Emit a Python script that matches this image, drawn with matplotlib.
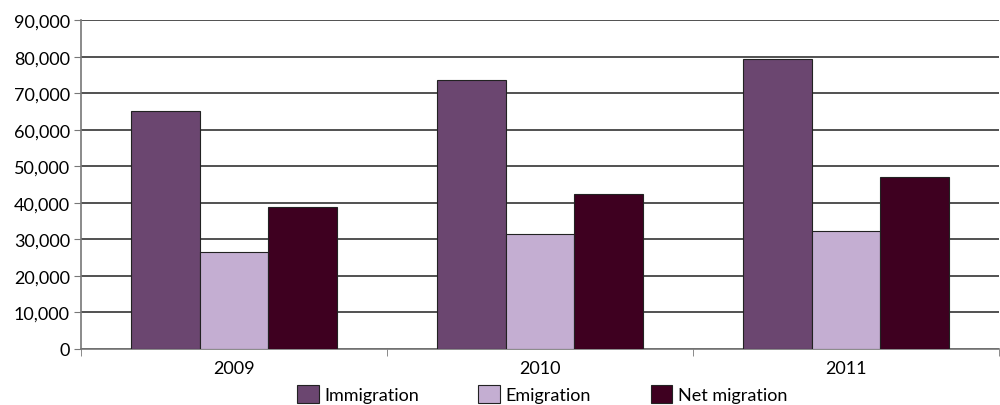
import matplotlib.pyplot as plt
import numpy as np
from matplotlib.ticker import FuncFormatter, FixedLocator

years = ['2009', '2010', '2011']
immigration = [65100, 73600, 79300]
emigration = [26500, 31500, 32400]
net_migration = [38800, 42400, 47000]

series = [('Immigration', immigration, '#6b4670'),
          ('Emigration', emigration, '#c4aed2'),
          ('Net migration', net_migration, '#3e0020')]

plt.rcParams['font.family'] = ['Lato', 'DejaVu Sans']

fig = plt.figure(figsize=(10, 4.06), dpi=100)
ax = fig.add_axes([0.081, 0.138, 0.918, 0.810])

x = np.arange(len(years))
w = 0.224
for i, (name, vals, col) in enumerate(series):
    ax.bar(x + (i - 1) * w, vals, w, color=col, edgecolor='#222222',
           linewidth=0.8, label=name, zorder=3)

ax.set_xlim(-0.5, 2.5)
ax.set_ylim(0, 90000)
ax.set_yticks(np.arange(0, 90001, 10000))
ax.yaxis.set_major_formatter(FuncFormatter(lambda v, p: f'{int(v):,}'))
ax.grid(axis='y', color='#333333', linewidth=1.2, zorder=0)

ax.set_xticks(x)
ax.set_xticklabels(years)
ax.xaxis.set_minor_locator(FixedLocator([-0.5, 0.5, 1.5, 2.5]))
ax.tick_params(axis='x', which='major', length=0, labelsize=13, pad=8)
ax.tick_params(axis='x', which='minor', length=5, color='#777777')
ax.tick_params(axis='y', length=5, color='#777777', labelsize=13, pad=3)

for s in ['top', 'right']:
    ax.spines[s].set_visible(False)
for s in ['left', 'bottom']:
    ax.spines[s].set_color('#777777')
    ax.spines[s].set_linewidth(1.2)

fig.legend(loc='center', bbox_to_anchor=(0.542, 0.027), ncol=3, frameon=False,
           fontsize=13, handlelength=1.2, handleheight=1.2, handletextpad=0.3,
           columnspacing=3.3, borderaxespad=0)

fig.savefig('out.png')
